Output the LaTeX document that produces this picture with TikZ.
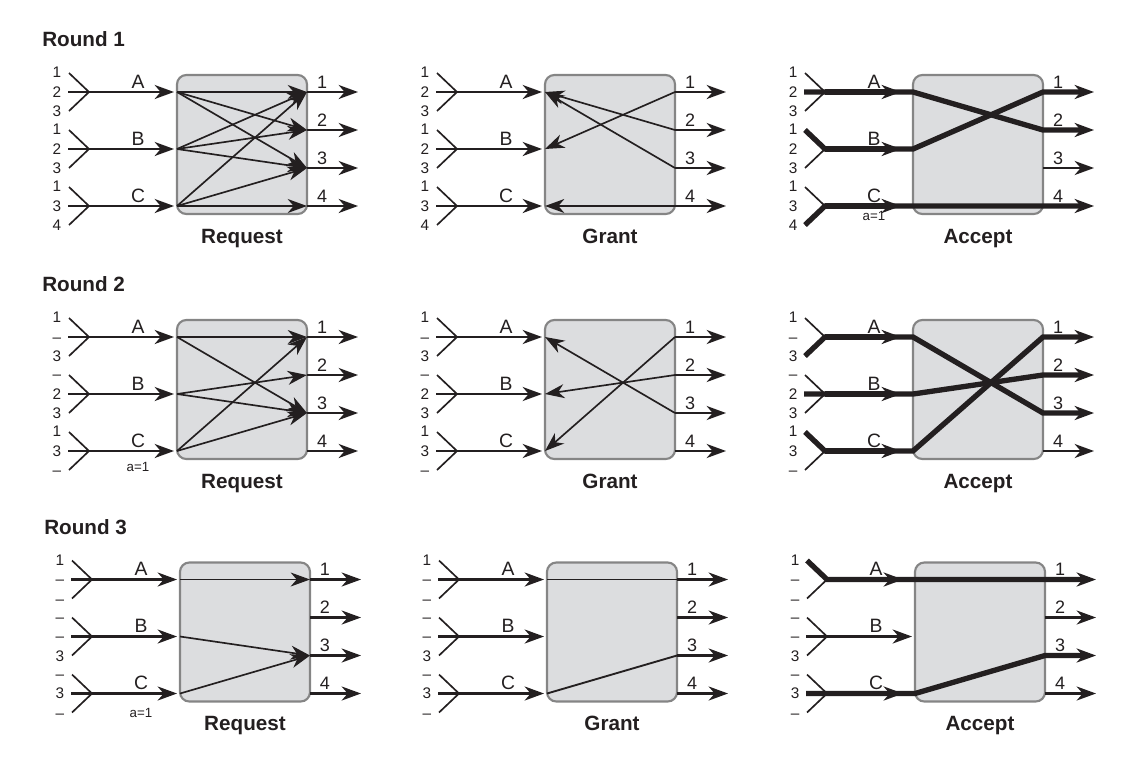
\documentclass[tikz,border=0pt]{standalone}
\usepackage{fontspec}
\setmainfont{Liberation Sans}
\usetikzlibrary{arrows.meta}
\definecolor{ink}{HTML}{231F20}
\definecolor{boxfill}{HTML}{DCDDDF}
\definecolor{boxline}{HTML}{858585}
\tikzset{
  x=0.75pt, y=-0.75pt,
  >={Stealth[length=14.5pt,width=10.5pt,inset=4.5pt]},
  panelbox/.style={draw=boxline, fill=boxfill, line width=1.6pt, rounded corners=7pt,
    minimum width=97.5pt, minimum height=104.25pt, inner sep=0pt},
  fork/.style={draw=ink, line width=1.25pt},
  io/.style={draw=ink, line width=1.7pt, ->},
  link/.style={draw=ink, line width=1.25pt, ->},
  plainlink/.style={draw=ink, line width=1.4pt},
  thk/.style={draw=ink, line width=4pt},
  letter/.style={font=\fontsize{14.5}{14.5}\selectfont, text=ink, inner sep=0pt, anchor=base},
  outnum/.style={font=\fontsize{13.5}{13.5}\selectfont, text=ink, inner sep=0pt, anchor=base},
  lnum/.style={font=\fontsize{11.5}{11.5}\selectfont, text=ink, inner sep=0pt, anchor=base},
  note/.style={font=\fontsize{10}{10}\selectfont, text=ink, inner sep=0pt, anchor=base},
  caption/.style={font=\bfseries\fontsize{15.5}{15.5}\selectfont, text=ink, inner sep=0pt, anchor=base},
  title/.style={font=\bfseries\fontsize{15.5}{15.5}\selectfont, text=ink, inner sep=0pt, anchor=base west},
}
% left request numbers of one input
\newcommand\lnums[4]{%
  \foreach \p/\q/\w in {#4}{%
    \node[lnum] (#1-n#2t) at (-120,#3-14.5) {\p};
    \node[lnum] (#1-n#2m) at (-120,#3+5) {\q};
    \node[lnum] (#1-n#2b) at (-120,#3+24.5) {\w};
  }}
% one panel: name, x, y, caption, numbers of A, B, C
\newcommand\panel[7]{%
  \begin{scope}[shift={(#2,#3)}]
    \node[panelbox] (#1) at (65,52.5) {};
    \foreach \r/\yy in {A/0,B/57,C/114}{%
      \coordinate (#1-i\r) at (0,\yy);
      \coordinate (#1-v\r) at (-88,\yy);
      \coordinate (#1-s\r) at (-109,\yy);
      \coordinate (#1-t\r) at (-108,\yy-19);
      \coordinate (#1-b\r) at (-108,\yy+19);
      \coordinate (#1-h\r) at (-3,\yy);
      \coordinate (#1-k\r) at (-12,\yy);
      \draw[fork] (#1-t\r) -- (#1-v\r) -- (#1-b\r);
      \node[letter] (#1-l\r) at (-39,\yy-4) {\r};
    }
    \foreach \n/\yy in {1/0,2/38,3/76,4/114}{%
      \coordinate (#1-o\n) at (130,\yy);
      \coordinate (#1-e\n) at (181,\yy);
      \node[outnum] (#1-m\n) at (145,\yy-4) {\n};
    }
    \lnums{#1}{A}{0}{#5}
    \lnums{#1}{B}{57}{#6}
    \lnums{#1}{C}{114}{#7}
    \node[caption] (#1-cap) at (65,151) {#4};
  \end{scope}}
\newcommand\ins[2]{\foreach \r in {#2}{\draw[io] (#1-s\r) -- (#1-h\r);}}
\newcommand\outs[2]{\foreach \n in {#2}{\draw[io] (#1-o\n) -- (#1-e\n);}}
\newcommand\reqs[2]{\foreach \a/\b in {#2}{\draw[link] (#1-i\a) -- (#1-o\b);}}
\newcommand\grants[2]{\foreach \b/\a in {#2}{\draw[link] (#1-o\b) -- (#1-i\a);}}
% accepted match: name, input, branch (t/s/b), output
\newcommand\acc[4]{%
  \draw[thk, ->] (#1-#3#2) -- (#1-v#2) -- (#1-i#2) -- (#1-o#4) -- (#1-e#4);
  \draw[thk, ->] (#1-v#2) -- (#1-k#2);}
\newcommand\aone[3]{\node[note] (#1-a) at (-39+#2,#3) {a=1};}

\begin{document}
\begin{tikzpicture}
\useasboundingbox (0,0) rectangle (1144,782);

\node[title] (round1) at (42,46.7) {Round 1};
\node[title] (round2) at (42,291.5) {Round 2};
\node[title] (round3) at (44,534.3) {Round 3};

% ---------------- Round 1 ----------------
\panel{r1q}{177}{92}{Request}{1/2/3}{1/2/3}{1/3/4}
\ins{r1q}{A,B,C}\outs{r1q}{1,2,3,4}
\reqs{r1q}{A/1,A/2,A/3,B/1,B/2,B/3,C/1,C/3,C/4}

\panel{r1g}{545}{92}{Grant}{1/2/3}{1/2/3}{1/3/4}
\ins{r1g}{A,B,C}\outs{r1g}{1,2,3,4}
\grants{r1g}{1/B,2/A,3/A,4/C}

\panel{r1a}{913}{92}{Accept}{1/2/3}{1/2/3}{1/3/4}
\outs{r1a}{3}
\acc{r1a}{A}{s}{2}
\acc{r1a}{B}{t}{1}
\acc{r1a}{C}{b}{4}
\aone{r1a}{913}{92+128}

% ---------------- Round 2 ----------------
\panel{r2q}{177}{337}{Request}{1/\textendash/3}{\textendash/2/3}{1/3/\textendash}
\ins{r2q}{A,B,C}\outs{r2q}{1,2,3,4}
\reqs{r2q}{A/1,A/3,B/2,B/3,C/1,C/3}
\aone{r2q}{177}{337+134}

\panel{r2g}{545}{337}{Grant}{1/\textendash/3}{\textendash/2/3}{1/3/\textendash}
\ins{r2g}{A,B,C}\outs{r2g}{1,2,3,4}
\grants{r2g}{1/C,2/B,3/A}

\panel{r2a}{913}{337}{Accept}{1/\textendash/3}{\textendash/2/3}{1/3/\textendash}
\outs{r2a}{4}
\acc{r2a}{A}{b}{3}
\acc{r2a}{B}{s}{2}
\acc{r2a}{C}{t}{1}

% ---------------- Round 3 ----------------
\panel{r3q}{180}{579.5}{Request}{1/\textendash/\textendash}{\textendash/\textendash/3}{\textendash/3/\textendash}
\ins{r3q}{A,B,C}\outs{r3q}{1,2,3,4}
\reqs{r3q}{A/1,B/3,C/3}
\aone{r3q}{180}{579.5+138}

\panel{r3g}{547}{579.5}{Grant}{1/\textendash/\textendash}{\textendash/\textendash/3}{\textendash/3/\textendash}
\ins{r3g}{A,B,C}\outs{r3g}{1,2,3,4}
\draw[plainlink] (r3g-o1) -- (r3g-iA);
\draw[plainlink] (r3g-o3) -- (r3g-iC);

\panel{r3a}{915}{579.5}{Accept}{1/\textendash/\textendash}{\textendash/\textendash/3}{\textendash/3/\textendash}
\ins{r3a}{B}\outs{r3a}{2,4}
\acc{r3a}{A}{t}{1}
\acc{r3a}{C}{s}{3}

\end{tikzpicture}
\end{document}
